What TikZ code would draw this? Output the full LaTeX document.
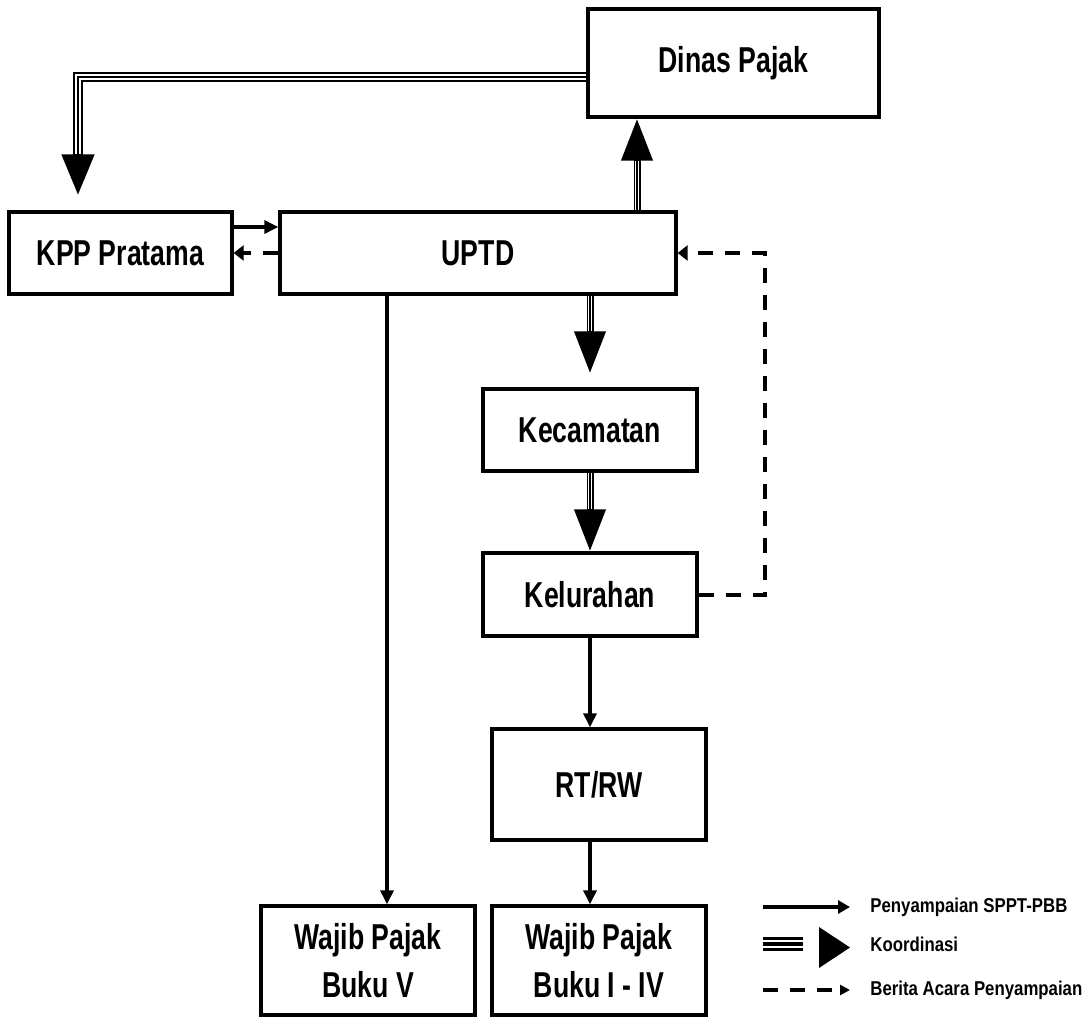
\documentclass[tikz,border=0pt]{standalone}
\usepackage{fontspec}
\setmainfont{Liberation Sans}[FakeStretch=0.74]
\newfontfamily\legendfont{Liberation Sans}[FakeStretch=0.84]
\usetikzlibrary{calc,arrows.meta}
\tikzset{
	box/.style={draw, line width=1.65pt, rectangle, inner sep=0pt, minimum width=107pt, align=center, font=\fontsize{18}{24}\selectfont\bfseries},
	legend/.style={inner sep=0pt, anchor=west, font=\legendfont\fontsize{10}{12}\selectfont\bfseries},
	sppt/.style={line width=1.6pt, -{Triangle[length=7pt,width=6.5pt]}},
	berita/.style={line width=2pt, dash pattern=on 7.5pt off 6pt, -{Triangle[length=5pt,width=7.5pt]}},
	koor/.style={line width=3.5pt, -{Triangle[length=21pt,width=15pt]},
		postaction={draw=white, line width=2.2pt, -, shorten >=21pt},
		postaction={draw=black, line width=0.7pt, -, shorten >=21pt}},
	koorwide/.style={line width=5pt, line join=miter, -{Triangle[length=21pt,width=15pt]},
		postaction={draw=white, line width=3pt, -, shorten >=21pt},
		postaction={draw=black, line width=1.2pt, -, shorten >=21pt}}
}

\begin{document}
\begin{tikzpicture}[x=0.5pt, y=-0.5pt]
			%%%%% START %%%%%
			\useasboundingbox[fill=white] (0,0) rectangle (1089,1017);
			
			\node[box, minimum width=145.5pt, minimum height=54pt] (dinas) at (733.5, 63) {Dinas Pajak};
			\node[box, minimum width=111.5pt, minimum height=41pt] (kpp) at (120.5, 253) {KPP Pratama};
			\node[box, minimum width=198pt, minimum height=41pt] (uptd) at (478, 253) {UPTD};
			\node[box, minimum height=41pt] (kec) at (590, 430) {Kecamatan};
			\node[box, minimum height=41.5pt] (kel) at (590, 594.5) {Kelurahan};
			\node[box, minimum height=55.5pt] (rtrw) at (599, 784.5) {RT/RW};
			\node[box, minimum height=54.5pt] (wp5) at (368, 960.5) {Wajib Pajak\\Buku V};
			\node[box, minimum height=54.5pt] (wp14) at (599, 960.5) {Wajib Pajak\\Buku I - IV};
			
			% koordinasi
			\draw[koorwide] ($(dinas.west)+(0,14)$) -| ($(kpp.north)+(-42.5,-14)$);
			\coordinate (upfoot) at ($(uptd.north)+(159,0)$);
			\draw[koor] (upfoot) -- (upfoot |- dinas.south);
			\draw[koor] (uptd.south -| kec.north) -- ($(kec.north)+(0,-14)$);
			\draw[koor] (kec.south) -- (kel.north);
			
			% penyampaian SPPT-PBB
			\draw[sppt] ($(kpp.east)+(0,-26)$) -- ($(uptd.west)+(0,-26)$);
			\coordinate (wpfoot) at ($(uptd.south)+(-91,0)$);
			\draw[sppt] (wpfoot) -- (wpfoot |- wp5.north);
			\draw[sppt] (kel.south) -- (kel.south |- rtrw.north);
			\draw[sppt] (rtrw.south -| kel.south) -- (wp14.north -| kel.south);
			
			% berita acara
			\draw[berita] (uptd.west) -- (kpp.east);
			\draw[berita] (kel.east) -- ++(66,0) |- (uptd.east);
			
			% legend
			\node[legend] (lsppt) at (870, 907) {Penyampaian SPPT-PBB};
			\node[legend] (lkoor) at (870, 944) {Koordinasi};
			\node[legend] (lberita) at (870, 990) {Berita Acara Penyampaian};
			\draw[line width=2pt, -{Triangle[length=6pt,width=6.5pt]}] ($(lsppt.west)+(-107,0)$) -- ($(lsppt.west)+(-20,0)$);
			\foreach \dy in {-5.7,0,5.7}
				\draw[line width=1.7pt] ($(lkoor.west)+(-107,\dy)$) -- ++(40,0);
			\fill ($(lkoor.west)+(-51,-17)$) -- ++(31,20.5) -- ++(-31,20.5) -- cycle;
			\draw[line width=2pt, dash pattern=on 7.5pt off 6pt, -{Triangle[length=5pt,width=5pt]}] ($(lberita.west)+(-107,0)$) -- ($(lberita.west)+(-20,0)$);
			
			%%%%% END %%%%%
\end{tikzpicture}
\end{document}
